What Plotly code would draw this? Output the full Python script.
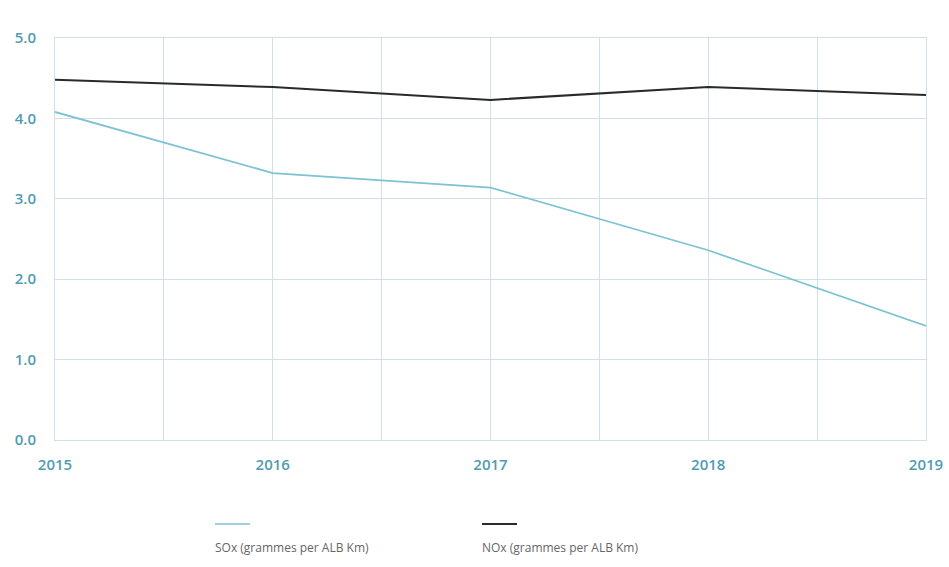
import plotly.graph_objects as go

years = [2015, 2016, 2017, 2018, 2019]
sox = [4.08, 3.32, 3.14, 2.36, 1.42]
nox = [4.48, 4.39, 4.23, 4.39, 4.29]
series_names = ["SOx (grammes per ALB Km)", "NOx (grammes per ALB Km)"]
y_ticks = [0, 1, 2, 3, 4, 5]
y_tick_labels = ["0.0", "1.0", "2.0", "3.0", "4.0", "5.0"]

sox_color = "#7cc3d3"
nox_color = "#2a2a2a"
grid_color = "#cfe0e6"
tick_color = "#4f9cb1"

fig = go.Figure()
fig.add_trace(go.Scatter(x=years, y=sox, mode="lines", name=series_names[0],
                         line=dict(color=sox_color, width=1.8)))
fig.add_trace(go.Scatter(x=years, y=nox, mode="lines", name=series_names[1],
                         line=dict(color=nox_color, width=2)))

fig.update_layout(
    width=949, height=567,
    margin=dict(l=55, r=23, t=38, b=127),
    paper_bgcolor="white", plot_bgcolor="white",
    showlegend=False,
    font=dict(family="Open Sans", size=12, color="#555555"),
)
fig.update_xaxes(
    range=[2015, 2019], tickvals=years, ticktext=[str(y) for y in years],
    showgrid=True, gridcolor=grid_color, gridwidth=1,
    minor=dict(dtick=0.5, showgrid=True, gridcolor=grid_color, gridwidth=1, tick0=2015),
    zeroline=False, showline=True, linecolor=grid_color, mirror=True,
    tickfont=dict(family="Open Sans", size=15, color=tick_color, weight=600),
    ticks="", ticklabelstandoff=11, automargin=False,
)
fig.update_yaxes(
    range=[0, 5], tickvals=y_ticks, ticktext=y_tick_labels,
    showgrid=True, gridcolor=grid_color, gridwidth=1,
    zeroline=False, showline=True, linecolor=grid_color, mirror=True,
    tickfont=dict(family="Open Sans", size=15, color=tick_color, weight=600),
    ticks="", ticklabelstandoff=15, automargin=False,
)

# custom legend: line sample above the label (paper coords relative to plot area)
plot_w = 949 - 55 - 23
plot_h = 567 - 38 - 127
legend_px = [215, 482]
colors = [sox_color, nox_color]
widths = [1.5, 2]
for name, px, c, w in zip(series_names, legend_px, colors, widths):
    lx = (px - 55) / plot_w
    fig.add_shape(type="line", xref="paper", yref="paper",
                  x0=lx, x1=lx + 35 / plot_w,
                  y0=-(524 - 440) / plot_h, y1=-(524 - 440) / plot_h,
                  line=dict(color=c, width=w))
    fig.add_annotation(text=name, xref="paper", yref="paper",
                       x=lx, y=-(547 - 440) / plot_h,
                       xanchor="left", yanchor="middle", showarrow=False,
                       xshift=-2,
                       font=dict(family="Open Sans", size=12, color="#666666"))

fig.write_html("out.html", config={"displayModeBar": False},
               post_script="document.body.style.margin='0';")
